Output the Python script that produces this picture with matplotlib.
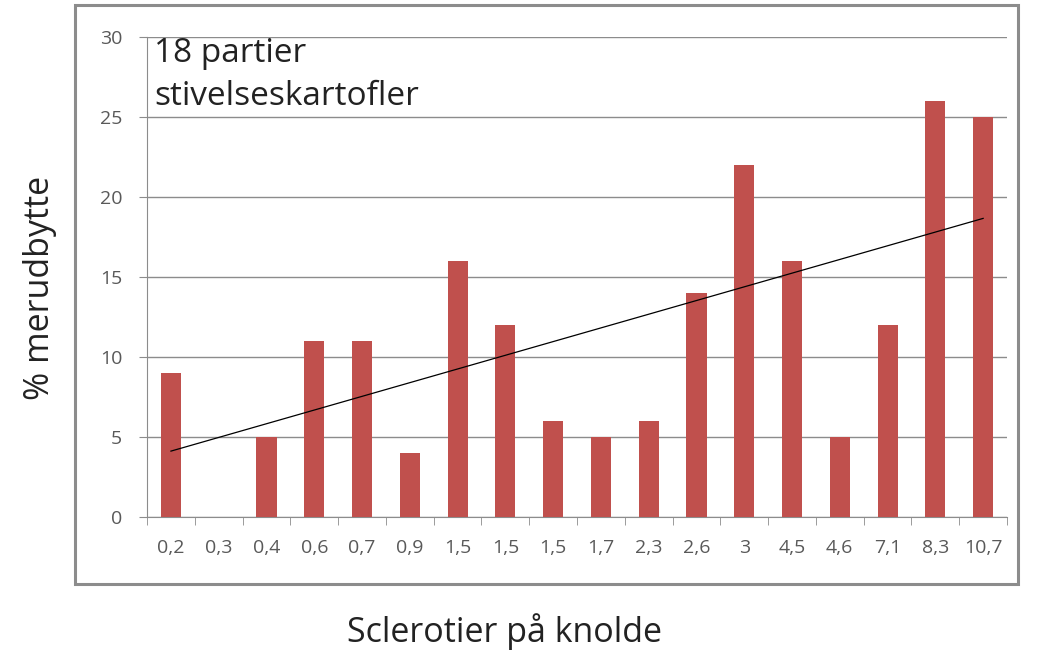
import matplotlib.pyplot as plt
import numpy as np
from matplotlib.patches import Rectangle

# sclerotier paa knolde (kategorier) og % merudbytte
kategorier = ['0,2', '0,3', '0,4', '0,6', '0,7', '0,9', '1,5', '1,5', '1,5',
              '1,7', '2,3', '2,6', '3', '4,5', '4,6', '7,1', '8,3', '10,7']
merudbytte = [9, 0, 5, 11, 11, 4, 16, 12, 6, 5, 6, 14, 22, 16, 5, 12, 26, 25]

plt.rcParams['font.family'] = ['Open Sans', 'DejaVu Sans']

fig = plt.figure(figsize=(10.43, 6.54), dpi=100)
ax = fig.add_axes([0.141, 0.2095, 0.8245, 0.734])

x = np.arange(len(kategorier))
ax.bar(x, merudbytte, width=0.42, color='#c0504d', zorder=3)

# lineaer tendenslinje
k, b = np.polyfit(x, merudbytte, 1)
ax.plot([x[0], x[-1]], [k*x[0]+b, k*x[-1]+b], color='black', lw=0.9, zorder=4)

ax.set_xlim(-0.5, len(kategorier)-0.5)
ax.set_ylim(0, 30)
ax.set_yticks(range(0, 31, 5))
ax.yaxis.grid(True, color='#8c8c8c', lw=1.0)
ax.set_axisbelow(True)

ax.set_xticks(x)
ax.set_xticklabels(kategorier)
ax.set_xticks(np.arange(-0.5, len(kategorier)), minor=True)
ax.tick_params(axis='x', which='major', length=0, pad=16, labelsize=14, labelcolor='#595959')
ax.tick_params(axis='x', which='minor', length=6, color='#8c8c8c')
ax.tick_params(axis='y', length=6, color='#8c8c8c', labelsize=14, labelcolor='#595959', pad=12)

for s in ['top', 'right']:
    ax.spines[s].set_visible(False)
ax.spines['left'].set_color('#8c8c8c')
ax.spines['bottom'].set_color('#8c8c8c')

ax.text(0.008, 1.0, '18 partier\nstivelseskartofler', transform=ax.transAxes,
        ha='left', va='top', fontsize=24, color='#222222', linespacing=1.4)

fig.text(0.038, 0.56, '% merudbytte', rotation=90, ha='center', va='center',
         fontsize=24.5, color='#222222')
fig.text(0.484, 0.034, 'Sclerotier på knolde', ha='center', va='center',
         fontsize=24.5, color='#222222')

fig.patches.append(Rectangle((0.0719, 0.107), 0.904, 0.885, transform=fig.transFigure,
                             fill=False, edgecolor='#8c8c8c', lw=2.2))

fig.savefig('out.png', dpi=100)
